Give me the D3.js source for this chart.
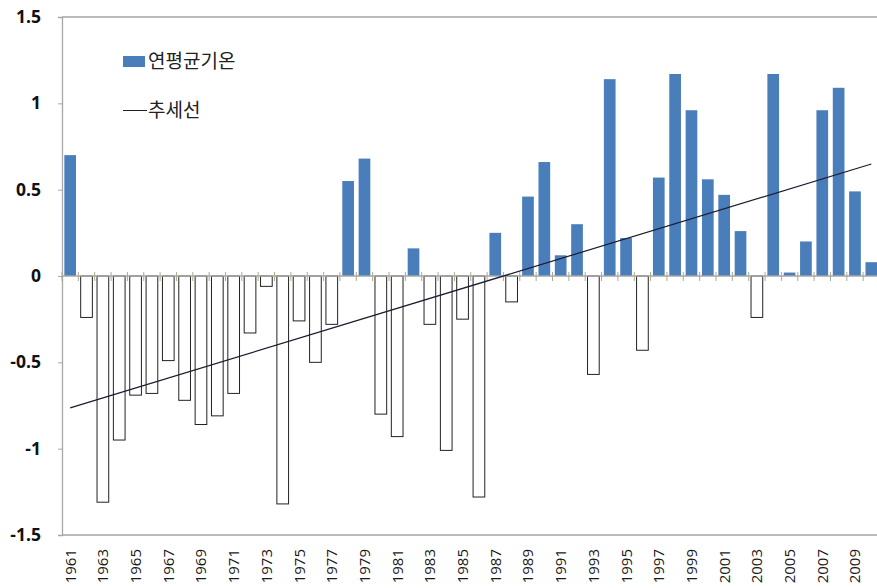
<!DOCTYPE html>
<html lang="ko">
<head>
<meta charset="UTF-8">
<title>연평균기온</title>
<script src="https://d3js.org/d3.v7.min.js"></script>
<style>
  body { margin: 0; background: #fff; }
  svg { display: block; }
</style>
</head>
<body>
<div id="chart"></div>
<script>
// data
var years = d3.range(1961, 2011)
var temps = [0.70, -0.24, -1.31, -0.95, -0.69, -0.68, -0.49, -0.72, -0.86, -0.81,
             -0.68, -0.33, -0.06, -1.32, -0.26, -0.50, -0.28, 0.55, 0.68, -0.80,
             -0.93, 0.16, -0.28, -1.01, -0.25, -1.28, 0.25, -0.15, 0.46, 0.66,
             0.12, 0.30, -0.57, 1.14, 0.22, -0.43, 0.57, 1.17, 0.96, 0.56,
             0.47, 0.26, -0.24, 1.17, 0.02, 0.20, 0.96, 1.09, 0.49, 0.08]
var yTicks = [-1.5, -1, -0.5, 0, 0.5, 1, 1.5]
var legendLabels = ["연평균기온", "추세선"]

var width = 877, height = 588
var plotLeft = 62, plotRight = 879.5, plotTop = 17, plotBottom = 535

var svg = d3.select("#chart").append("svg")
  .attr("width", width)
  .attr("height", height)

var x = d3.scaleBand()
  .domain(years)
  .range([plotLeft, plotRight])
  .paddingInner(0.285)
  .paddingOuter(0.1425)

var y = d3.scaleLinear()
  .domain([-1.5, 1.5])
  .range([plotBottom, plotTop])

// plot frame: top and bottom
svg.append("line")
  .attr("x1", plotLeft).attr("x2", width)
  .attr("y1", y(1.5)).attr("y2", y(1.5))
  .attr("stroke", "#a6a6a6").attr("stroke-width", 1.3)
svg.append("line")
  .attr("x1", plotLeft).attr("x2", width)
  .attr("y1", y(-1.5)).attr("y2", y(-1.5))
  .attr("stroke", "#a6a6a6").attr("stroke-width", 1.3)

// y axis (plain hyphen for negatives, as in the original)
var yAxis = svg.append("g")
  .attr("transform", "translate(" + plotLeft + ",0)")
  .call(d3.axisLeft(y).tickValues(yTicks).tickSize(4).tickPadding(17)
    .tickFormat(function(d) { return String(d) }))
yAxis.select(".domain").attr("stroke", "#a6a6a6").attr("stroke-width", 1.3)
yAxis.selectAll(".tick line").attr("stroke", "#a6a6a6")
yAxis.selectAll("text")
  .attr("font-family", "'Open Sans', 'Noto Sans', sans-serif")
  .attr("font-weight", "bold")
  .attr("font-size", 17.5)
  .attr("fill", "#111")

// bars
svg.selectAll("rect.bar")
  .data(years)
  .enter().append("rect")
  .attr("class", "bar")
  .attr("x", function(d) { return x(d) })
  .attr("width", x.bandwidth())
  .attr("y", function(d, i) { return y(Math.max(0, temps[i])) })
  .attr("height", function(d, i) { return Math.abs(y(temps[i]) - y(0)) })
  .attr("fill", function(d, i) { return temps[i] >= 0 ? "#4a7ebb" : "#fff" })
  .attr("stroke", function(d, i) { return temps[i] >= 0 ? "none" : "#222" })
  .attr("stroke-width", 1)

// x axis at zero, cross tick marks between categories
svg.append("line")
  .attr("x1", plotLeft).attr("x2", width)
  .attr("y1", y(0)).attr("y2", y(0))
  .attr("stroke", "#a6a6a6").attr("stroke-width", 1.3)
var step = x.step()
svg.selectAll("line.xtick")
  .data(d3.range(years.length + 1))
  .enter().append("line")
  .attr("class", "xtick")
  .attr("x1", function(i) { return plotLeft + i * step })
  .attr("x2", function(i) { return plotLeft + i * step })
  .attr("y1", y(0) - 4)
  .attr("y2", y(0) + 5)
  .attr("stroke", "#b0a890")
  .attr("stroke-width", 1)

// year labels, every other year
svg.selectAll("text.year")
  .data(years.filter(function(d, i) { return i % 2 === 0 }))
  .enter().append("text")
  .attr("class", "year")
  .attr("transform", function(d) {
    return "translate(" + (x(d) + x.bandwidth() / 2 + 5.5) + "," + (plotBottom + 14) + ") rotate(-90)"
  })
  .attr("text-anchor", "end")
  .attr("font-family", "'Open Sans', 'Noto Sans', sans-serif")
  .attr("font-size", 15)
  .attr("fill", "#1a1a1a")
  .text(function(d) { return d })

// linear trend from the series
var n = years.length
var mx = d3.mean(years), my = d3.mean(temps)
var sxy = d3.sum(years, function(d, i) { return (d - mx) * (temps[i] - my) })
var sxx = d3.sum(years, function(d) { return (d - mx) * (d - mx) })
var slope = sxy / sxx
var trend = [years[0], years[n - 1]].map(function(d) { return [d, my + slope * (d - mx)] })

svg.append("path")
  .datum(trend)
  .attr("fill", "none")
  .attr("stroke", "#1a1a2e")
  .attr("stroke-width", 1.2)
  .attr("d", d3.line()
    .x(function(d) { return x(d[0]) + x.bandwidth() / 2 })
    .y(function(d) { return y(d[1]) }))

// legend
var legend = svg.append("g")
legend.append("rect")
  .attr("x", 123).attr("y", 56)
  .attr("width", 22).attr("height", 11)
  .attr("fill", "#4a7ebb")
legend.append("line")
  .attr("x1", 123).attr("x2", 147)
  .attr("y1", 110.5).attr("y2", 110.5)
  .attr("stroke", "#222").attr("stroke-width", 1)
legend.selectAll("text")
  .data(legendLabels)
  .enter().append("text")
  .attr("x", 148)
  .attr("y", function(d, i) { return 61 + i * 49 })
  .attr("dy", "0.35em")
  .attr("font-family", "'Noto Sans CJK KR', sans-serif")
  .attr("font-size", 19)
  .attr("fill", "#222")
  .text(function(d) { return d })
</script>
</body>
</html>
